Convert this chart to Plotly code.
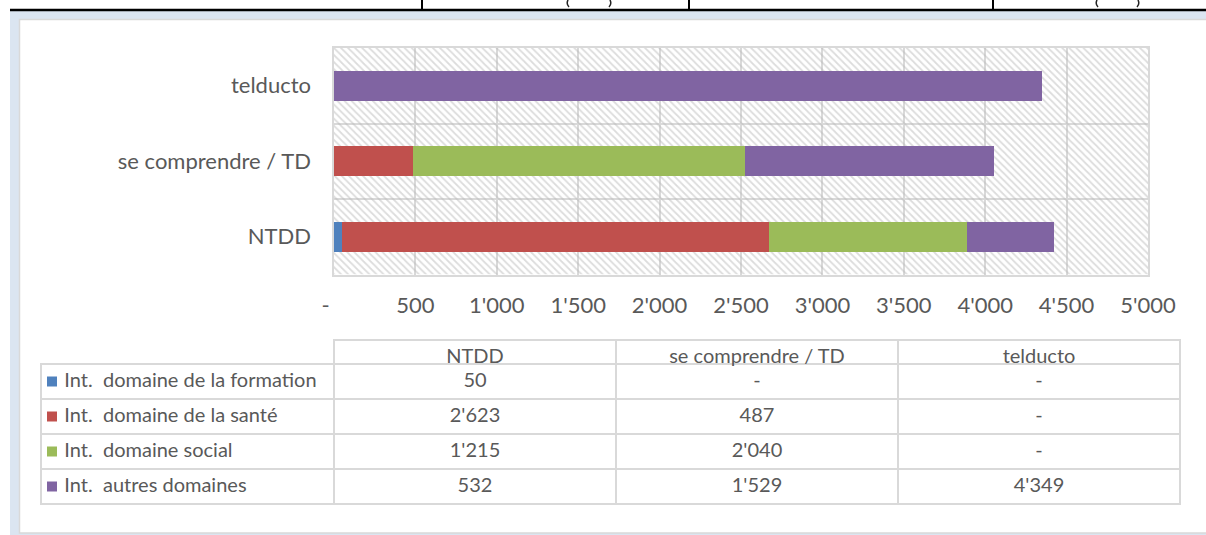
import plotly.graph_objects as go

# data
categories = ["NTDD", "se comprendre / TD", "telducto"]
series_names = ["Int.  domaine de la formation", "Int.  domaine de la santé",
                "Int.  domaine social", "Int.  autres domaines"]
formation = [50, 0, 0]
sante = [2623, 487, 0]
social = [1215, 2040, 0]
autres = [532, 1529, 4349]
tick_vals = [0, 500, 1000, 1500, 2000, 2500, 3000, 3500, 4000, 4500, 5000]
tick_text = ["-\u00a0\u00a0\u00a0", "500", "1'000", "1'500", "2'000", "2'500",
             "3'000", "3'500", "4'000", "4'500", "5'000"]

colors = ["#4f81bd", "#c0504d", "#9bbb59", "#8064a2"]
series = [formation, sante, social, autres]
TXT = "#595959"
GRID = "#d9d9d9"
FONT = "Lato, 'Open Sans', sans-serif"
NB = "\u00a0"
CLEAR = "rgba(0,0,0,0)"

W, H = 1206, 535


def px(x):
    return x / W


def py(y):
    return 1 - y / H


def fmt(v):
    return "-" if v == 0 else f"{v:,}".replace(",", "'")


fig = go.Figure()

# hatched plot-area background (base axes, below the bars)
fig.add_trace(go.Scatter(
    x=[0, 5000, 5000, 0, 0], y=[-0.5, -0.5, 2.5, 2.5, -0.5],
    mode="none", fill="toself", fillcolor=CLEAR,
    fillpattern=dict(shape="\\", fgcolor="#bababa", bgcolor=CLEAR,
                     size=5, solidity=0.35),
    hoverinfo="skip", showlegend=False, xaxis="x", yaxis="y"))

# stacked bars on the overlaying axes
for name, vals, c in zip(series_names, series, colors):
    fig.add_trace(go.Bar(
        y=categories, x=vals, name=name, orientation="h",
        marker=dict(color=c, line=dict(width=0)),
        xaxis="x2", yaxis="y2", showlegend=False))

# legend keys in the first table column
fig.add_trace(go.Scatter(
    x=[0] * len(series_names), y=list(range(len(series_names))),
    mode="markers", marker=dict(symbol="square", size=10, color=colors, line=dict(width=0)),
    hoverinfo="skip", showlegend=False, xaxis="x3", yaxis="y3"))

# data table (no plain spaces, so the table does not re-wrap the labels)
label_cells = [NB * 3 + n.replace(" ", NB) for n in series_names]
value_cols = [[fmt(s[i]) for s in series] for i in range(len(categories))]
header_vals = [""] + [c.replace(" ", NB) for c in categories]

fig.add_trace(go.Table(
    domain=dict(x=[px(41), px(1180)], y=[py(505), py(340)]),
    columnwidth=[293, 282, 282, 282],
    header=dict(values=header_vals,
                align=["left", "center", "center", "center"],
                height=24,
                fill=dict(color=CLEAR),
                line=dict(color=[CLEAR, GRID, GRID, GRID], width=2),
                font=dict(family=FONT, size=20, color=TXT)),
    cells=dict(values=[label_cells] + value_cols,
               align=["left", "center", "center", "center"],
               height=35,
               fill=dict(color=CLEAR),
               line=dict(color=GRID, width=2),
               font=dict(family=FONT, size=20, color=TXT))))

x_dom = [px(334), px(1148)]
y_dom = [py(274.5), py(48)]

fig.update_layout(
    width=W, height=H,
    margin=dict(l=0, r=0, t=0, b=0, autoexpand=False),
    paper_bgcolor="white", plot_bgcolor=CLEAR,
    barmode="stack", bargap=0.6,
    font=dict(family=FONT, size=22, color=TXT),
    showlegend=False,
    xaxis=dict(domain=x_dom, range=[0, 5000], tickvals=tick_vals, ticktext=tick_text,
               showgrid=True, gridcolor=GRID, gridwidth=2, zeroline=False,
               showline=True, linecolor=GRID, linewidth=2, mirror=True, automargin=False,
               ticks="", ticklabelstandoff=10, tickfont=dict(size=22, color=TXT)),
    yaxis=dict(domain=y_dom, range=[-0.5, 2.5], tickvals=[-0.5, 0.5, 1.5, 2.5],
               showticklabels=False, showgrid=True, gridcolor=GRID, gridwidth=2, automargin=False,
               zeroline=False, showline=True, linecolor=GRID, linewidth=2, mirror=True),
    xaxis2=dict(overlaying="x", range=[0, 5000], visible=False, automargin=False),
    yaxis2=dict(overlaying="y", range=[-0.5, 2.5], type="category",
                categoryorder="array", categoryarray=categories, automargin=False,
                showgrid=False, zeroline=False, showline=False, ticks="",
                ticklabelstandoff=22, tickfont=dict(size=22, color=TXT)),
    xaxis3=dict(domain=[px(41), px(334)], range=[-11, 282], visible=False,
                anchor="y3", automargin=False),
    yaxis3=dict(domain=[py(504), py(364)], range=[3.5, -0.5], visible=False,
                anchor="x3", automargin=False),
)

# page frame around the embedded chart
shapes = [
    dict(type="rect", x0=px(10), x1=px(1210), y0=py(540), y1=py(11),
         fillcolor="#dbe5f1", line=dict(width=0)),
    dict(type="rect", x0=px(19.5), x1=px(1212), y0=py(533), y1=py(19.5),
         fillcolor="white", line=dict(color=GRID, width=1.5)),
    dict(type="line", x0=px(10), x1=px(1206), y0=py(10), y1=py(10),
         line=dict(color="black", width=2.5)),
]
for xv in [422, 689, 993]:
    shapes.append(dict(type="line", x0=px(xv), x1=px(xv), y0=py(0), y1=py(10),
                       line=dict(color="black", width=2)))
# clipped parenthesis fragments of the text above
for xl, xr in [(568, 610), (1097, 1138)]:
    shapes.append(dict(type="path", path=f"M {px(xl)} {py(0)} Q {px(xl - 2)} {py(4)} {px(xl + 1)} {py(7)}",
                       line=dict(color="#222", width=1.5)))
    shapes.append(dict(type="path", path=f"M {px(xr)} {py(0)} Q {px(xr + 2)} {py(4)} {px(xr - 1)} {py(7)}",
                       line=dict(color="#222", width=1.5)))
for s in shapes:
    s.update(xref="paper", yref="paper", layer="below")
fig.update_layout(shapes=shapes)

fig.write_html("out.html", config={"responsive": False, "displayModeBar": False},
               post_script="document.body.style.margin='0';document.body.style.overflow='hidden';")
